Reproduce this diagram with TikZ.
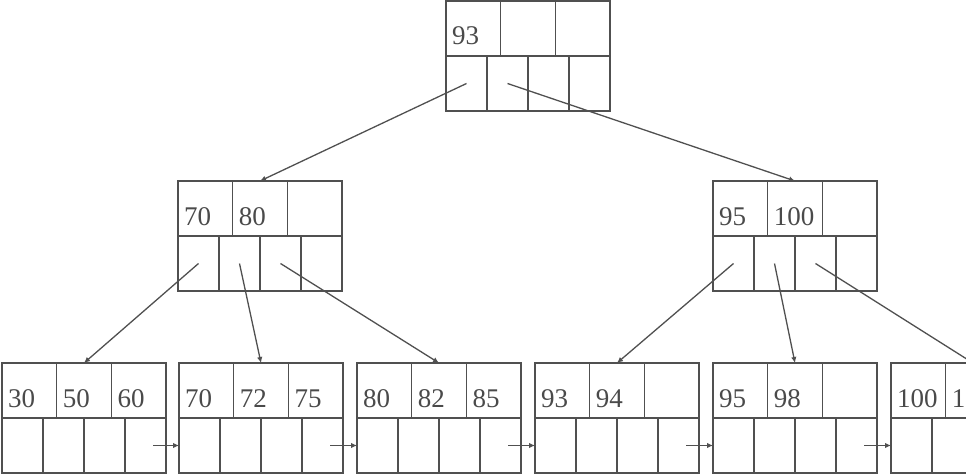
\documentclass[tikz,border=0pt]{standalone}
\usepackage{fontspec}
\setmainfont{Liberation Serif}
\usetikzlibrary{arrows.meta,calc}
\definecolor{ink}{HTML}{505050}
\definecolor{txt}{HTML}{4A4A4A}
\tikzset{
  bbox/.style={draw=ink, line width=1.6pt, minimum width=164pt, minimum height=110pt,
    inner sep=0pt, outer sep=0pt, anchor=north west, rectangle},
  divider/.style={draw=ink, line width=1.6pt},
  keytext/.style={anchor=base west, inner sep=0pt, text=txt, font=\fontsize{27}{30}\selectfont},
  ptr/.style={draw=ink, line width=1.3pt, -{Latex[length=6pt,width=5.5pt]}},
}
\newcommand\btnode[6]{%
  \node[bbox] (#1) at (#2,#3) {};
  \draw[divider] (#1.west) -- (#1.east);
  \foreach \i in {1,2}
    \draw[divider] ($(#1.north west)!\i/3!(#1.north east)$) -- ($(#1.west)!\i/3!(#1.east)$);
  \foreach \i in {1,2,3}
    \draw[divider] ($(#1.west)!\i/4!(#1.east)$) -- ($(#1.south west)!\i/4!(#1.south east)$);
  \node[keytext] (#1-k1) at ($(#1.west)+(6,-11)$) {#4};
  \node[keytext] (#1-k2) at ($(#1.west)!1/3!(#1.east)+(6,-11)$) {#5};
  \node[keytext] (#1-k3) at ($(#1.west)!2/3!(#1.east)+(6,-11)$) {#6};
  \coordinate (#1-p1) at ($(#1.west)!1/8!(#1.east)+(0,27.5)$);
  \coordinate (#1-p2) at ($(#1.west)!3/8!(#1.east)+(0,27.5)$);
  \coordinate (#1-p3) at ($(#1.west)!5/8!(#1.east)+(0,27.5)$);
  \coordinate (#1-nx) at ($(#1.east)+(-13,27.5)$);
  \coordinate (#1-in) at ($(#1.west)+(0,27.5)$);
}
\begin{document}
\begin{tikzpicture}[x=1pt,y=-1pt]
\useasboundingbox (0,0) rectangle (966,476);
\clip (0,0) rectangle (966,476);
\btnode{root}{446}{1}{93}{}{}
\btnode{inl}{178}{181}{70}{80}{}
\btnode{inr}{713}{181}{95}{100}{}
\btnode{la}{2}{363}{30}{50}{60}
\btnode{lb}{179}{363}{70}{72}{75}
\btnode{lc}{357}{363}{80}{82}{85}
\btnode{ld}{535}{363}{93}{94}{}
\btnode{le}{713}{363}{95}{98}{}
\btnode{lf}{891}{363}{100}{10}{}
\draw[ptr] (root-p1) -- (inl.north);
\draw[ptr] (root-p2) -- (inr.north);
\draw[ptr] (inl-p1) -- (la.north);
\draw[ptr] (inl-p2) -- (lb.north);
\draw[ptr] (inl-p3) -- (lc.north);
\draw[ptr] (inr-p1) -- (ld.north);
\draw[ptr] (inr-p2) -- (le.north);
\draw[ptr] (inr-p3) -- (lf.north);
\draw[ptr] (la-nx) -- (lb-in);
\draw[ptr] (lb-nx) -- (lc-in);
\draw[ptr] (lc-nx) -- (ld-in);
\draw[ptr] (ld-nx) -- (le-in);
\draw[ptr] (le-nx) -- (lf-in);
\end{tikzpicture}
\end{document}
